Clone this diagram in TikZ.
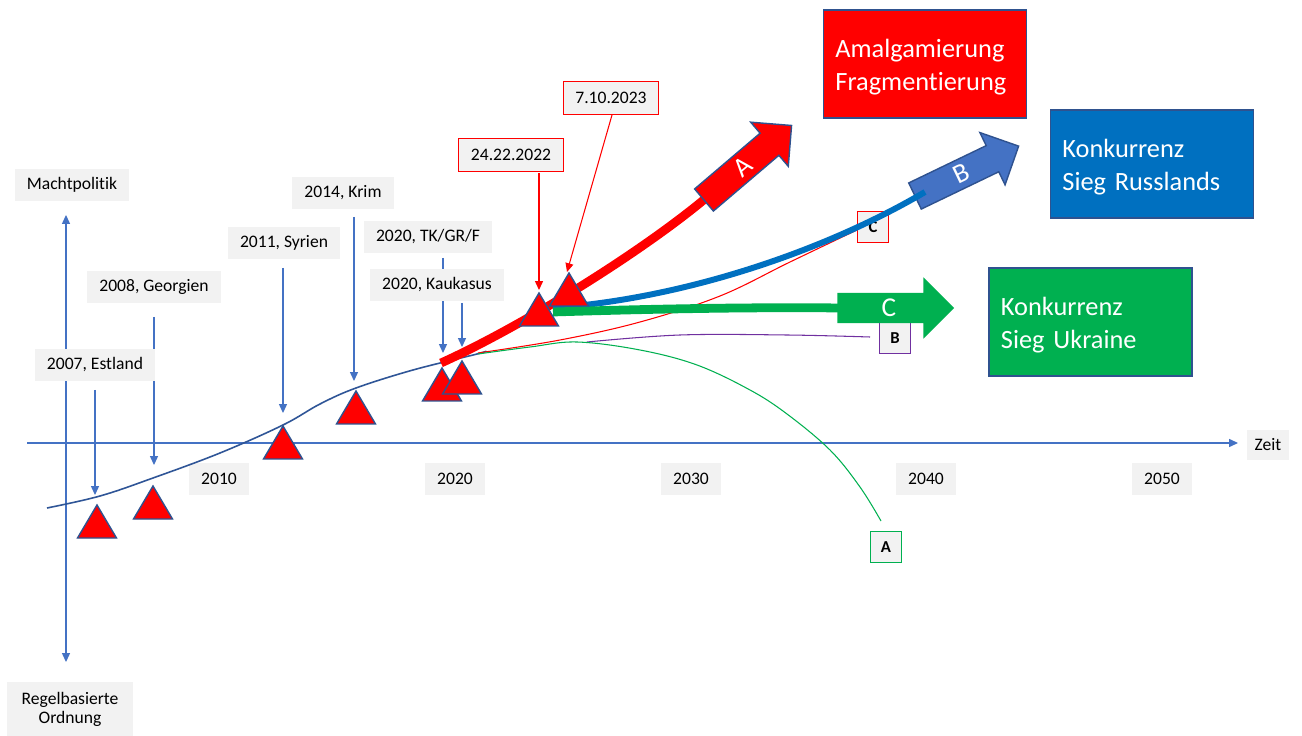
\documentclass[tikz,border=0pt]{standalone}
\usepackage{fontspec}
\setmainfont{Carlito}[Ligatures={NoCommon}]
\usetikzlibrary{arrows.meta}
\definecolor{axisblue}{HTML}{4472C4}
\definecolor{navy}{HTML}{2F528F}
\definecolor{curveblue}{HTML}{2F5597}
\definecolor{graybg}{HTML}{F2F2F2}
\definecolor{boxblue}{HTML}{0070C0}
\definecolor{boxgreen}{HTML}{00B050}
\definecolor{arrblue}{HTML}{4472C4}
\definecolor{purp}{HTML}{7030A0}
\definecolor{pured}{HTML}{FF0000}
\newcommand\redtri[2]{\draw[tri] ({#1-19.5},{#2+33}) -- (#1,#2) -- ({#1+19.5},{#2+33}) -- cycle;}
% tail x, tail y, angle, fill, border, node name, letter
\newcommand\blockarr[7]{%
\begin{scope}[shift={(#1,#2)}, rotate=#3]
  \path[fill=#4, draw=#5, line width=0.8pt, line join=miter]
    (0,-14.5) -- (86,-14.5) -- (86,-29) -- (115,0) -- (86,29) -- (86,14.5) -- (0,14.5) -- cycle;
  \node[text=white, font=\fontsize{15.5}{18}\selectfont, rotate=#3, inner sep=0pt] (#6) at (51,0) {#7};
\end{scope}}
\begin{document}
\begin{tikzpicture}[x=0.02cm, y=-0.02cm,
  lbl/.style={fill=graybg, inner xsep=7pt, inner ysep=0pt, minimum height=18.7pt,
              font=\fontsize{10}{12}\selectfont, text=black},
  evarrow/.style={draw=axisblue, line width=0.6pt, -{Triangle[length=5pt,width=4.5pt]}},
  redarrow/.style={draw=pured, line width=0.6pt, -{Triangle[length=5pt,width=4.5pt]}},
  axisline/.style={draw=axisblue, line width=0.6pt},
  tri/.style={fill=pured, draw=navy, line width=0.8pt, line join=miter},
  bigbox/.style={draw=navy, line width=0.9pt, minimum width=115.6pt, minimum height=61.2pt, inner sep=0pt},
  boxtext/.style={text=white, font=\fontsize{15}{18.7}\selectfont,
                 align=left, text width=102pt, inner sep=0pt},
  smallbox/.style={fill=graybg, font=\bfseries\fontsize{9.5}{11}\selectfont,
                   minimum width=18pt, minimum height=17.5pt, inner sep=0pt, line width=0.7pt},
  thin/.style={line width=0.6pt}
]
\path[use as bounding box, fill=white] (0,0) rectangle (1302,736);

% axes
\coordinate (vtop) at (66,215);
\coordinate (vbot) at (66,662);
\coordinate (hleft) at (27,443);
\coordinate (hright) at (1238,443);
\draw[axisline, {Triangle[length=5pt,width=4.5pt]}-{Triangle[length=5pt,width=4.5pt]}] (vtop) -- (vbot);
\draw[axisline, -{Triangle[length=5pt,width=4.5pt]}] (hleft) -- (hright);

% event arrows (drawn before boxes)
\coordinate (estS) at (95,390);  \coordinate (estE) at (95,495);
\coordinate (geoS) at (154,317); \coordinate (geoE) at (154,465);
\coordinate (syrS) at (283,268); \coordinate (syrE) at (283,413);
\coordinate (krS) at (354,217);  \coordinate (krE) at (354,381);
\coordinate (tkS) at (443,258);  \coordinate (tkE) at (443,353);
\coordinate (kauS) at (462,303); \coordinate (kauE) at (462,347);
\draw[evarrow] (estS) -- (estE);
\draw[evarrow] (geoS) -- (geoE);
\draw[evarrow] (syrS) -- (syrE);
\draw[evarrow] (krS) -- (krE);
\draw[evarrow] (tkS) -- (tkE);
\draw[evarrow] (kauS) -- (kauE);

% axis labels
\node[lbl] (mp) at (72,185) {Machtpolitik};
\node[lbl, align=center, minimum height=30.6pt, minimum width=72pt,
      font=\fontsize{10}{10.8}\selectfont] (ro) at (70,709) {Regelbasierte\\Ordnung};
\node[lbl, inner xsep=4.5pt, minimum height=17.6pt] (zeit) at (1268,445) {Zeit};

% years
\node[lbl] (y2010) at (219,479) {2010};
\node[lbl] (y2020) at (455,479) {2020};
\node[lbl] (y2030) at (691,479) {2030};
\node[lbl] (y2040) at (926,479) {2040};
\node[lbl] (y2050) at (1162,479) {2050};

% event labels
\node[lbl] (est) at (95,365) {2007, Estland};
\node[lbl] (geo) at (154,287) {2008, Georgien};
\node[lbl] (syr) at (284,243) {2011, Syrien};
\node[lbl] (krim) at (343,193) {2014, Krim};
\node[lbl] (tk) at (428,237) {2020, TK/GR/F};
\node[lbl] (kau) at (437,285) {2020, Kaukasus};

% main curve
\draw[curveblue, line width=0.9pt] plot[smooth, tension=0.6] coordinates
  {(47,508) (100,496) (153,478) (220,453) (283,425) (320,404) (356,388) (413,370) (477,354) (486,351)};

% thin scenario lines
\draw[pured, thin] plot[smooth, tension=0.6] coordinates
  {(478,353) (560,340) (640,322) (720,296) (790,262) (857,230)};
\draw[purp, thin] plot[smooth, tension=0.6] coordinates
  {(587,342) (680,335) (787,335) (870,337)};
\draw[boxgreen, thin] plot[smooth, tension=0.6] coordinates
  {(478,354) (530,347) (577,342) (640,350) (697,365) (750,390) (787,414) (830,450) (860,487) (881,521)};

% small scenario boxes
\node[smallbox, draw=pured] (sC) at (873,227) {C};
\node[smallbox, draw=purp] (sB) at (895,338) {B};
\node[smallbox, draw=boxgreen] (sA) at (886,547) {A};

% thick scenario lines and block arrows
\coordinate (redS) at (441,363);
\coordinate (redE) at (706,198);
\draw[pured, line width=5pt] (redS) .. controls (525,325) and (644,250) .. (redE);
\blockarr{704}{200}{40.4}{pured}{navy}{arrA}{A}

\blockarr{915}{196}{25.7}{arrblue}{navy}{arrB}{B}
\coordinate (blueS) at (553,308);
\coordinate (blueE) at (925,192);
\draw[boxblue, line width=3.4pt] (blueS) .. controls (690,298) and (830,248) .. (blueE);

\coordinate (greenS) at (553,312);
\coordinate (greenE) at (842,308);
\draw[boxgreen, line width=5pt] (greenS) .. controls (650,309) and (750,307) .. (greenE);
\blockarr{838}{308}{0}{boxgreen}{boxgreen}{arrC}{C}

% triangles
\redtri{97}{505}
\redtri{153}{486}
\redtri{283}{426}
\redtri{356}{391}
\redtri{442}{368}
\redtri{462}{361}
\redtri{539}{293}
\redtri{569}{273}

% date labels
\node[lbl, draw=pured, line width=0.6pt] (d1) at (511,155) {24.22.2022};
\node[lbl, draw=pured, line width=0.6pt] (d2) at (611,98) {7.10.2023};
\coordinate (d1S) at (539,173);
\coordinate (d1E) at (539,290);
\coordinate (d2S) at (612,115);
\coordinate (d2E) at (567,272);
\draw[redarrow] (d1S) -- (d1E);
\draw[redarrow] (d2S) -- (d2E);

% outcome boxes
\node[bigbox, fill=pured] (amal) at (925,64) {};
\node[boxtext, yshift=-1.8pt] (amalT) at (amal.center) {Amalgamierung\\Fragmentierung};
\node[bigbox, fill=boxblue] (russ) at (1152,164) {};
\node[boxtext, yshift=-1.8pt] (russT) at (russ.center) {Konkurrenz\\Sieg Russlands};
\node[bigbox, fill=boxgreen] (ukr) at (1090.5,322) {};
\node[boxtext, yshift=-1.8pt] (ukrT) at (ukr.center) {Konkurrenz\\Sieg Ukraine};
\end{tikzpicture}
\end{document}
